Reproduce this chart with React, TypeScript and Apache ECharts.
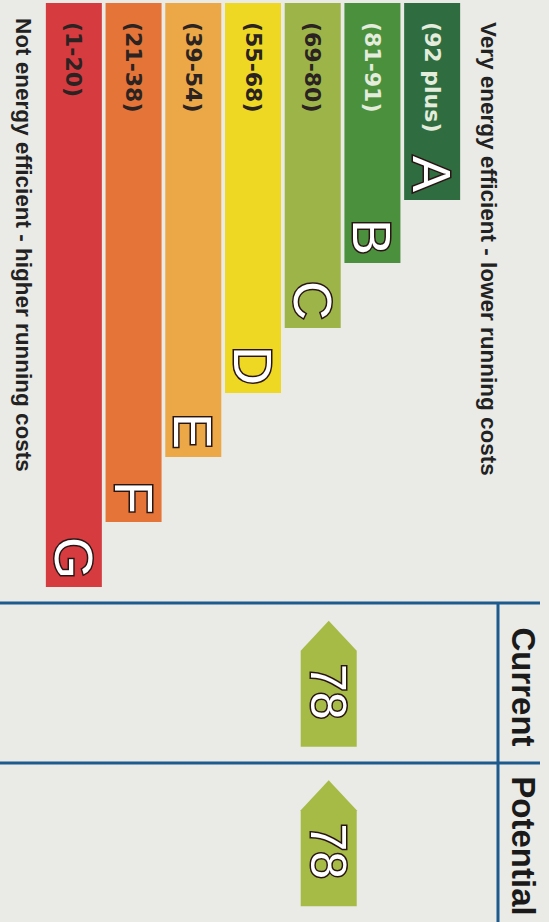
import React, { useEffect, useRef } from "react";
import * as echarts from "echarts";

const categories = ["A", "B", "C", "D", "E", "F", "G"];
const ranges = ["(92 plus)", "(81-91)", "(69-80)", "(55-68)", "(39-54)", "(21-38)", "(1-20)"];
const barLengths = [197, 260, 325, 390, 454, 519, 584];
const barColors = ["#2f6d41", "#4b903d", "#9db548", "#efd824", "#eca847", "#e47437", "#d63b40"];
const rangeTextColors = ["#e4ecdc", "#e4ecdc", "#2b2222", "#2b2222", "#2b2222", "#2b2222", "#2b2222"];
const columns = ["Current", "Potential"];
const ratings = [78, 78];
const ratingBands = ["C", "C"];
const topText = "Very energy efficient - lower running costs";
const bottomText = "Not energy efficient - higher running costs";

const BLUE = "#1d5a8e";

export default function App() {
  const ref = useRef<HTMLDivElement>(null);
  useEffect(() => {
    const chart = echarts.init(ref.current!, null, { renderer: "svg" });
    const option: any = {
      animation: false,
      backgroundColor: "#eaeae6",
      grid: [
        { left: 44, right: 87, top: 3, height: 600 },
        { left: 44, right: 87, top: 603, bottom: 0 },
      ],
      xAxis: [
        { type: "category", data: categories, inverse: true, show: false, gridIndex: 0 },
        { type: "category", data: categories, inverse: true, show: false, gridIndex: 1 },
      ],
      yAxis: [
        { type: "value", min: 0, max: 600, inverse: true, show: false, gridIndex: 0 },
        { type: "category", data: columns, inverse: true, show: false, gridIndex: 1 },
      ],
      series: [
        {
          type: "bar",
          xAxisIndex: 0,
          yAxisIndex: 0,
          barWidth: 56,
          data: barLengths.map((v, i) => ({
            value: v,
            itemStyle: { color: barColors[i] },
            label: { color: rangeTextColors[i] },
          })),
          label: {
            show: true,
            position: "insideTop",
            distance: 19,
            rotate: -90,
            align: "left",
            verticalAlign: "middle",
            fontFamily: "DejaVu Sans",
            fontWeight: "bold",
            fontSize: 22,
            formatter: (p: any) => ranges[p.dataIndex],
          },
        },
        {
          type: "bar",
          xAxisIndex: 0,
          yAxisIndex: 0,
          barWidth: 56,
          barGap: "-100%",
          itemStyle: { color: "rgba(0,0,0,0)" },
          data: barLengths,
          label: {
            show: true,
            position: "insideBottom",
            distance: 8,
            rotate: -90,
            align: "right",
            verticalAlign: "middle",
            fontFamily: "Liberation Sans",
            fontSize: 54,
            color: "#ffffff",
            textBorderColor: "#2a1515",
            textBorderWidth: 3,
            formatter: (p: any) => categories[p.dataIndex],
          },
        },
        {
          type: "custom",
          xAxisIndex: 1,
          yAxisIndex: 1,
          encode: { x: 0, y: 1 },
          data: columns.map((c, i) => [ratingBands[i], c, ratings[i]]),
          renderItem: (params: any, api: any) => {
            const pt = api.coord([api.value(0), api.value(1)]);
            const cx = pt[0] + 16;
            const top = pt[1] - 62;
            const hw = 28;
            return {
              type: "group",
              children: [
                {
                  type: "polygon",
                  shape: {
                    points: [
                      [cx, top],
                      [cx + hw, top + 30],
                      [cx + hw, top + 126],
                      [cx - hw, top + 126],
                      [cx - hw, top + 30],
                    ],
                  },
                  style: { fill: "#a6bb45" },
                },
                {
                  type: "text",
                  x: cx - 1,
                  y: top + 71,
                  rotation: -Math.PI / 2,
                  style: {
                    text: String(ratings[params.dataIndex]),
                    fill: "#ffffff",
                    stroke: "#2a1515",
                    lineWidth: 3,
                    fontSize: 50,
                    fontFamily: "Liberation Sans",
                    align: "center",
                    verticalAlign: "middle",
                  },
                },
              ],
            };
          },
        },
      ],
      graphic: [
        { type: "line", shape: { x1: 0, y1: 603, x2: 540, y2: 603 }, style: { stroke: BLUE, lineWidth: 3 } },
        { type: "line", shape: { x1: 0, y1: 763, x2: 540, y2: 763 }, style: { stroke: BLUE, lineWidth: 3 } },
        { type: "line", shape: { x1: 498, y1: 603, x2: 498, y2: 922 }, style: { stroke: BLUE, lineWidth: 3 } },
        {
          type: "text",
          x: 523,
          y: 687,
          rotation: -Math.PI / 2,
          style: { text: columns[0], fill: "#1a1a1a", font: 'bold 33px "Liberation Sans"', align: "center", verticalAlign: "middle" },
        },
        {
          type: "text",
          x: 523,
          y: 846,
          rotation: -Math.PI / 2,
          style: { text: columns[1], fill: "#1a1a1a", font: 'bold 33px "Liberation Sans"', align: "center", verticalAlign: "middle" },
        },
        {
          type: "text",
          x: 488,
          y: 22,
          rotation: -Math.PI / 2,
          style: { text: topText, fill: "#222222", font: 'bold 22.5px "Liberation Sans"', align: "left", verticalAlign: "middle" },
        },
        {
          type: "text",
          x: 23,
          y: 18,
          rotation: -Math.PI / 2,
          style: { text: bottomText, fill: "#222222", font: 'bold 22.5px "Liberation Sans"', align: "left", verticalAlign: "middle" },
        },
      ],
    };
    chart.setOption(option);
    return () => chart.dispose();
  }, []);
  return (
    <div
      ref={ref}
      style={{ position: "fixed", left: 0, top: 0, width: 549, height: 922, background: "#eaeae6" }}
    />
  );
}
